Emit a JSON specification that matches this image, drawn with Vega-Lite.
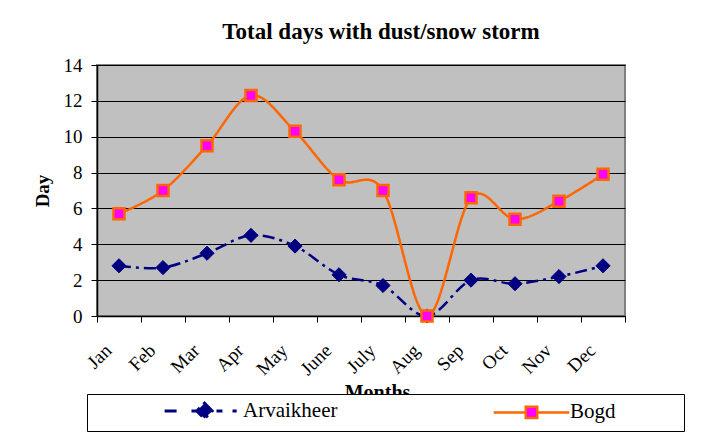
{
  "$schema": "https://vega.github.io/schema/vega-lite/v6.json",
  "width": 528,
  "height": 251,
  "autosize": {"type": "none"},
  "padding": {"left": 97, "top": 65, "right": 81, "bottom": 130},
  "background": "white",
  "title": {
    "text": "Total days with dust/snow storm",
    "font": "Liberation Serif",
    "fontSize": 23,
    "fontWeight": "bold",
    "color": "black",
    "anchor": "middle",
    "dx": 20,
    "dy": 33,
    "offset": 27,
    "baseline": "alphabetic"
  },
  "data": {
    "values": [
      {"month": "Jan", "series": "Arvaikheer", "value": 2.8},
      {"month": "Feb", "series": "Arvaikheer", "value": 2.7},
      {"month": "Mar", "series": "Arvaikheer", "value": 3.5},
      {"month": "Apr", "series": "Arvaikheer", "value": 4.5},
      {"month": "May", "series": "Arvaikheer", "value": 3.9},
      {"month": "June", "series": "Arvaikheer", "value": 2.3},
      {"month": "July", "series": "Arvaikheer", "value": 1.7},
      {"month": "Aug", "series": "Arvaikheer", "value": 0},
      {"month": "Sep", "series": "Arvaikheer", "value": 2.0},
      {"month": "Oct", "series": "Arvaikheer", "value": 1.8},
      {"month": "Nov", "series": "Arvaikheer", "value": 2.2},
      {"month": "Dec", "series": "Arvaikheer", "value": 2.8},
      {"month": "Jan", "series": "Bogd", "value": 5.7},
      {"month": "Feb", "series": "Bogd", "value": 7.0},
      {"month": "Mar", "series": "Bogd", "value": 9.5},
      {"month": "Apr", "series": "Bogd", "value": 12.3},
      {"month": "May", "series": "Bogd", "value": 10.3},
      {"month": "June", "series": "Bogd", "value": 7.6},
      {"month": "July", "series": "Bogd", "value": 7.0},
      {"month": "Aug", "series": "Bogd", "value": 0},
      {"month": "Sep", "series": "Bogd", "value": 6.6},
      {"month": "Oct", "series": "Bogd", "value": 5.4},
      {"month": "Nov", "series": "Bogd", "value": 6.4},
      {"month": "Dec", "series": "Bogd", "value": 7.9}
    ]
  },
  "encoding": {
    "x": {
      "field": "month",
      "type": "ordinal",
      "sort": ["Jan", "Feb", "Mar", "Apr", "May", "June", "July", "Aug", "Sep", "Oct", "Nov", "Dec"],
      "scale": {"type": "band", "paddingInner": 0, "paddingOuter": 0},
      "bandPosition": 0.5,
      "axis": {
        "title": "Months",
        "titleFont": "Liberation Serif",
        "titleFontSize": 20,
        "titleFontWeight": "bold",
        "titleColor": "black",
        "titleX": 280,
        "titleY": 66,
        "titleBaseline": "top",
        "titleAlign": "center",
        "labelAngle": -45,
        "labelAlign": "right",
        "labelBaseline": "middle",
        "labelFont": "Liberation Serif",
        "labelFontSize": 19,
        "labelColor": "black",
        "labelPadding": 25,
        "labelOffset": -11,
        "tickSize": 6,
        "tickColor": "black",
        "tickBand": "extent",
        "domainColor": "black",
        "domainWidth": 1.5,
        "grid": false
      }
    },
    "y": {
      "field": "value",
      "type": "quantitative",
      "scale": {"domain": [0, 14], "nice": false},
      "axis": {
        "title": "Day",
        "titleFont": "Liberation Serif",
        "titleFontSize": 19,
        "titleFontWeight": "bold",
        "titleColor": "black",
        "titleX": -55,
        "titleY": 125.5,
        "titleAlign": "center",
        "titleBaseline": "middle",
        "values": [0, 2, 4, 6, 8, 10, 12, 14],
        "labelFont": "Liberation Serif",
        "labelFontSize": 19,
        "labelColor": "black",
        "labelPadding": 9,
        "tickSize": 6,
        "tickColor": "black",
        "domainColor": "black",
        "domainWidth": 1.5,
        "grid": true,
        "gridColor": "black",
        "gridWidth": 1
      }
    }
  },
  "layer": [
    {
      "mark": {"type": "line", "interpolate": "cardinal", "strokeWidth": 2.5},
      "encoding": {
        "color": {
          "field": "series",
          "type": "nominal",
          "scale": {"domain": ["Arvaikheer", "Bogd"], "range": ["#000080", "#FF6600"]},
          "legend": {
            "orient": "none",
            "legendX": -10,
            "legendY": 329,
            "direction": "horizontal",
            "columns": 2,
            "title": "\u00a0",
            "titleOrient": "right",
            "titlePadding": 62,
            "titleFontSize": 4,
            "titleFont": "Liberation Serif",
            "padding": 6,
            "strokeColor": "black",
            "fillColor": "white",
            "symbolSize": 196,
            "symbolOffset": 101,
            "labelOffset": 28,
            "columnPadding": 82,
            "labelFont": "Liberation Serif",
            "labelFontSize": 21,
            "labelColor": "black",
            "labelLimit": 0,
            "encode": {
              "symbols": {
                "update": {
                  "shape": {"signal": "datum.value === 'Bogd' ? 'M-5.4,0L-0.82,0M0.82,0L5.4,0M-0.82,-0.82L0.82,-0.82L0.82,0.82L-0.82,0.82Z' : 'M-5.7,0L-3.4,0M-1.86,0L2.57,0M0,-1.1L1.1,0L0,1.1L-1.1,0ZM4.0,0L4.6,0'"},
                  "fill": {"signal": "datum.value === 'Bogd' ? '#FF00FF' : '#000080'"},
                  "stroke": {"signal": "datum.value === 'Bogd' ? '#FF6600' : '#000080'"},
                  "strokeWidth": {"signal": "datum.value === 'Bogd' ? 2.5 : 3"},
                  "strokeDash": {"value": []},
                  "opacity": {"value": 1},
                  "fillOpacity": {"value": 1}
                }
              }
            }
          }
        },
        "strokeDash": {
          "field": "series",
          "type": "nominal",
          "scale": {"domain": ["Arvaikheer", "Bogd"], "range": [[12, 5, 3, 5], [1, 0]]},
          "legend": null
        }
      }
    },
    {
      "transform": [{"filter": {"field": "series", "equal": "Arvaikheer"}}],
      "mark": {"type": "point", "shape": "diamond", "filled": true, "opacity": 1, "fill": "#000080", "stroke": "#000080", "strokeWidth": 1, "size": 200}
    },
    {
      "transform": [{"filter": {"field": "series", "equal": "Bogd"}}],
      "mark": {"type": "point", "shape": "square", "filled": true, "opacity": 1, "fill": "#FF00FF", "stroke": "#FF6600", "strokeWidth": 2.5, "size": 121}
    }
  ],
  "config": {
    "font": "Liberation Serif",
    "legend": {"labelFont": "Liberation Serif"},
    "view": {"fill": "#C0C0C0", "stroke": "#808080", "strokeWidth": 2}
  }
}
